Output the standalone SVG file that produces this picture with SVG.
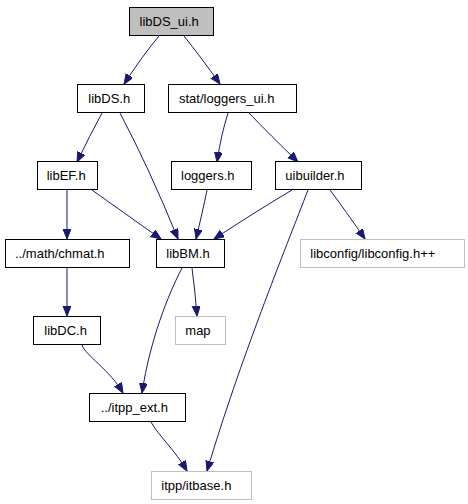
<svg xmlns="http://www.w3.org/2000/svg" width="468" height="504" viewBox="0 0 468 504">
<defs>
<style>
.n rect{fill:#ffffff;stroke:#000000;stroke-width:1}
.n.g rect{stroke:#bfbfbf}
.n.root rect{fill:#bfbfbf}
.n text{font-family:"Liberation Sans",Arial,sans-serif;font-size:13px;fill:#000000}
#edges path{fill:none;stroke:#191970;stroke-width:1;marker-end:url(#ah)}
</style>
<marker id="ah" markerUnits="userSpaceOnUse" markerWidth="11" markerHeight="9" refX="10" refY="4" orient="auto">
<path d="M0,0 L10,4 L0,8 z" fill="#191970" stroke="#191970" stroke-width="1"/>
</marker>
</defs>
<rect width="468" height="504" fill="#ffffff"/>
<g id="edges">
<path d="M159,36 Q143,55 124,84"/>
<path d="M184,36 Q200,56 220,84"/>
<path d="M102,113 Q90,135 77,162"/>
<path d="M120,113 Q150,170 178,239"/>
<path d="M228,113 Q221,135 217,162"/>
<path d="M249,113 Q270,135 298,162"/>
<path d="M67,190 L67,239"/>
<path d="M92,190 Q120,210 161,239"/>
<path d="M207,190 Q203,210 196,239"/>
<path d="M292,190 Q255,212 214,239"/>
<path d="M330,190 Q345,210 365,239"/>
<path d="M308,190 C285,250 240,360 207,471"/>
<path d="M182,268 C168,295 150,340 142,393"/>
<path d="M192,268 Q195,290 197,316"/>
<path d="M67,268 L67,316"/>
<path d="M82,345 C85,355 110,370 123,393"/>
<path d="M151,422 C158,435 175,450 187,471"/>
</g>
<g id="libDS_ui" class="n root"><rect x="129.5" y="7.5" width="84" height="28"/><text x="139.5" y="26">libDS_ui.h</text></g>
<g id="libDS" class="n"><rect x="77.5" y="84.5" width="67" height="28"/><text x="88.3" y="103">libDS.h</text></g>
<g id="loggers_ui" class="n"><rect x="168.5" y="84.5" width="128" height="28"/><text x="179" y="103">stat/loggers_ui.h</text></g>
<g id="libEF" class="n"><rect x="37.5" y="161.5" width="60" height="28"/><text x="46.7" y="180">libEF.h</text></g>
<g id="loggers" class="n"><rect x="171.5" y="161.5" width="80" height="28"/><text x="181" y="180">loggers.h</text></g>
<g id="uibuilder" class="n"><rect x="275.5" y="161.5" width="86" height="28"/><text x="285.3" y="180">uibuilder.h</text></g>
<g id="chmat" class="n"><rect x="5.5" y="239.5" width="124" height="28"/><text x="15" y="258">../math/chmat.h</text></g>
<g id="libBM" class="n"><rect x="156.5" y="239.5" width="68" height="28"/><text x="166.3" y="258">libBM.h</text></g>
<g id="libconfig" class="n g"><rect x="300.5" y="239.5" width="164" height="28"/><text x="310.3" y="258">libconfig/libconfig.h++</text></g>
<g id="map" class="n g"><rect x="175.5" y="316.5" width="50" height="28"/><text x="185.3" y="335">map</text></g>
<g id="libDC" class="n"><rect x="33.5" y="316.5" width="67" height="28"/><text x="44.3" y="335">libDC.h</text></g>
<g id="itpp_ext" class="n"><rect x="89.5" y="393.5" width="96" height="28"/><text x="100.7" y="412">../itpp_ext.h</text></g>
<g id="itbase" class="n g"><rect x="151.5" y="471.5" width="100" height="28"/><text x="161.3" y="490">itpp/itbase.h</text></g>
</svg>
